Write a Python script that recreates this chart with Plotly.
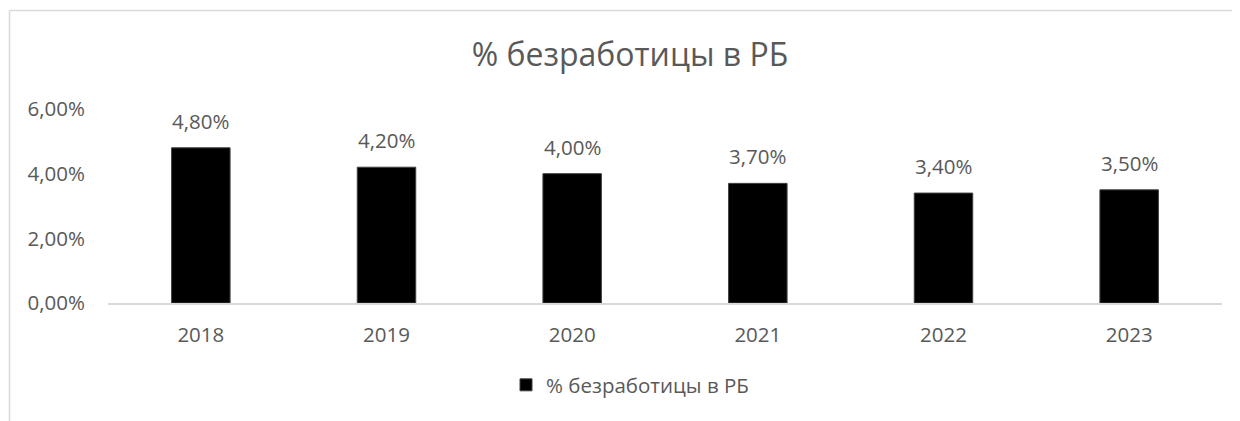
import plotly.graph_objects as go

years = ["2018", "2019", "2020", "2021", "2022", "2023"]
values = [0.048, 0.042, 0.040, 0.037, 0.034, 0.035]
series_name = "% безработицы в РБ"
title_text = "% безработицы в РБ"
y_ticks = [0, 0.02, 0.04, 0.06]


def pct(v):
    return f"{v*100:.2f}%".replace(".", ",")


FONT = "Open Sans"
GREY = "#595959"
OFF = 8  # page body margin

fig = go.Figure()
fig.add_trace(go.Bar(
    x=years, y=values, name=series_name,
    marker=dict(color="#000000", line=dict(color="#404040", width=1)),
    showlegend=True,
))

for i, v in enumerate(values):
    fig.add_annotation(
        x=i, y=v, xref="x", yref="y",
        text=pct(v),
        showarrow=False, yanchor="bottom", yshift=11,
        font=dict(family=FONT, size=20.5, color=GREY),
    )

W, H = 1240, 421
ml = 108 - OFF
mt = 109 - OFF
mr = W - (1222 - OFF)
mb = H - (303 - OFF)
pw = W - ml - mr
ph = H - mt - mb


def px_x(p):
    return (p - OFF - ml) / pw


def px_y(p):
    return (H - mb - (p - OFF)) / ph


fig.add_shape(type="line", xref="paper", yref="paper",
              x0=px_x(9.5), x1=px_x(1300), y0=px_y(10.5), y1=px_y(10.5),
              line=dict(color="#d9d9d9", width=1.5))
fig.add_shape(type="line", xref="paper", yref="paper",
              x0=px_x(9.5), x1=px_x(9.5), y0=px_y(10.5), y1=px_y(480),
              line=dict(color="#d9d9d9", width=1.5))

fig.update_layout(
    width=W, height=H,
    margin=dict(l=ml, r=mr, t=mt, b=mb),
    paper_bgcolor="white", plot_bgcolor="white",
    bargap=0.685,
    title=dict(text=title_text, x=(630 - OFF) / W, xanchor="center",
               y=1 - (55 - OFF) / H, yanchor="middle", yref="container",
               font=dict(family=FONT, size=32, color=GREY)),
    font=dict(family=FONT, size=20.5, color=GREY),
    xaxis=dict(type="category", range=[-0.5, len(years) - 0.5],
               showgrid=False, showline=True, linecolor="#d9d9d9",
               linewidth=1.5, ticks="outside", ticklen=13, tickcolor="rgba(0,0,0,0)",
               tickfont=dict(family=FONT, size=20.5, color=GREY)),
    yaxis=dict(range=[0, 0.06], tickvals=y_ticks, ticktext=[pct(t) for t in y_ticks],
               showgrid=False, showline=False, zeroline=False,
               ticks="outside", ticklen=18, tickcolor="rgba(0,0,0,0)",
               tickfont=dict(family=FONT, size=20.5, color=GREY)),
    legend=dict(orientation="h", x=px_x(630), xanchor="center",
                y=px_y(385), yanchor="middle",
                font=dict(family=FONT, size=20.5, color=GREY)),
)

fig.write_html("out.html")
